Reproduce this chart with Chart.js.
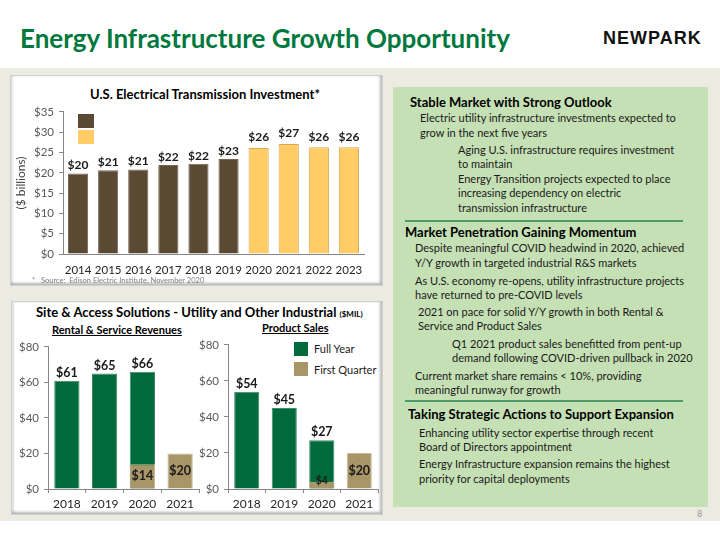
<!DOCTYPE html>
<html>
<head>
<meta charset="utf-8">
<script src="https://cdn.jsdelivr.net/npm/chart.js@4.4.0/dist/chart.umd.min.js"></script>
<style>
  body { margin:0; width:720px; height:540px; position:relative; overflow:hidden; background:#fff; font-family:Lato, "Open Sans", sans-serif; color:#1a1a1a; }
  .band { position:absolute; left:0; top:68px; width:720px; height:453px; background:#ecebe2; }
  .panel { position:absolute; background:#fff; border:1px solid #d0d0d0; box-shadow:inset -2px -2px 3px rgba(0,0,0,0.28), inset 2px 0 2px rgba(0,0,0,0.12); box-sizing:border-box; }
  .green { position:absolute; left:393px; top:87px; width:315px; height:420px; background:#c5e0b4; }
  .t { position:absolute; white-space:nowrap; line-height:14px; }
  .txt { font-size:11px; }
  .hd { font-size:13px; font-weight:bold; color:#000; }
  .sep { position:absolute; left:405px; width:278px; height:2px; background:#4e9a6a; }
  canvas { position:absolute; }
  .sq { position:absolute; }
</style>
</head>
<body>
<div class="band"></div>

<div class="t" style="left:20px;top:21px;font-size:26px;font-weight:bold;color:#00783e;line-height:34px;">Energy Infrastructure Growth Opportunity</div>
<div class="t" style="left:603px;top:28px;font-family:'Liberation Sans',Arial,sans-serif;font-size:18px;font-weight:bold;color:#111;letter-spacing:1px;line-height:20px;">NEWPARK</div>

<!-- panel z wykresem inwestycji -->
<div class="panel" style="left:10px;top:75px;width:373px;height:211px;"></div>
<div class="t" style="left:90px;top:86px;font-size:13px;font-weight:bold;color:#000;line-height:16px;">U.S. Electrical Transmission Investment*</div>
<div class="sq" style="left:78px;top:114px;width:16px;height:14px;background:#5a4a33;"></div>
<div class="sq" style="left:78px;top:130px;width:16px;height:14px;background:#ffcc66;"></div>
<canvas id="topChart" width="372" height="178" style="left:10px;top:100px;"></canvas>
<div class="t" style="left:32px;top:276px;font-size:7.5px;color:#7f7f7f;line-height:10px;">*&nbsp;&nbsp;&nbsp;Source:&nbsp;&nbsp;Edison Electric Institute, November 2020</div>

<!-- panel z przychodami -->
<div class="panel" style="left:11px;top:301px;width:372px;height:214px;"></div>
<div class="t" style="left:36px;top:304px;font-size:13px;font-weight:bold;color:#000;line-height:16px;">Site &amp; Access Solutions - Utility and Other Industrial <span style="font-size:8px;">($MIL)</span></div>
<div class="t" style="left:52px;top:323px;font-size:11px;font-weight:bold;color:#000;text-decoration:underline;">Rental &amp; Service Revenues</div>
<div class="t" style="left:262px;top:321px;font-size:11px;font-weight:bold;color:#000;text-decoration:underline;">Product Sales</div>
<div class="sq" style="left:294px;top:342px;width:14px;height:14px;background:#006a3c;"></div>
<div class="t txt" style="left:314px;top:342px;">Full Year</div>
<div class="sq" style="left:294px;top:362px;width:14px;height:14px;background:#a89668;"></div>
<div class="t txt" style="left:314px;top:363px;">First Quarter</div>
<canvas id="rentalChart" width="190" height="180" style="left:12px;top:335px;"></canvas>
<canvas id="productChart" width="190" height="182" style="left:192px;top:333px;"></canvas>

<!-- prawy panel z tekstem -->
<div class="green"></div>
<div class="t hd" style="left:410px;top:95px;">Stable Market with Strong Outlook</div>
<div class="t txt" style="left:420px;top:111px;">Electric utility infrastructure investments expected to</div>
<div class="t txt" style="left:420px;top:126px;">grow in the next five years</div>
<div class="t txt" style="left:458px;top:143px;">Aging U.S. infrastructure requires investment</div>
<div class="t txt" style="left:458px;top:157px;">to maintain</div>
<div class="t txt" style="left:458px;top:172px;">Energy Transition projects expected to place</div>
<div class="t txt" style="left:458px;top:186px;">increasing dependency on electric</div>
<div class="t txt" style="left:458px;top:201px;">transmission infrastructure</div>
<div class="sep" style="top:220px;"></div>
<div class="t hd" style="left:405px;top:225px;">Market Penetration Gaining Momentum</div>
<div class="t txt" style="left:415px;top:241px;">Despite meaningful COVID headwind in 2020, achieved</div>
<div class="t txt" style="left:415px;top:256px;">Y/Y growth in targeted industrial R&amp;S markets</div>
<div class="t txt" style="left:415px;top:274px;">As U.S. economy re-opens, utility infrastructure projects</div>
<div class="t txt" style="left:415px;top:288px;">have returned to pre-COVID levels</div>
<div class="t txt" style="left:418px;top:305px;">2021 on pace for solid Y/Y growth in both Rental &amp;</div>
<div class="t txt" style="left:418px;top:319px;">Service and Product Sales</div>
<div class="t txt" style="left:452px;top:337px;">Q1 2021 product sales benefitted from pent-up</div>
<div class="t txt" style="left:452px;top:351px;">demand following COVID-driven pullback in 2020</div>
<div class="t txt" style="left:415px;top:369px;">Current market share remains &lt; 10%, providing</div>
<div class="t txt" style="left:415px;top:383px;">meaningful runway for growth</div>
<div class="sep" style="top:400px;"></div>
<div class="t hd" style="left:408px;top:407px;">Taking Strategic Actions to Support Expansion</div>
<div class="t txt" style="left:419px;top:426px;">Enhancing utility sector expertise through recent</div>
<div class="t txt" style="left:419px;top:440px;">Board of Directors appointment</div>
<div class="t txt" style="left:419px;top:457px;">Energy Infrastructure expansion remains the highest</div>
<div class="t txt" style="left:419px;top:472px;">priority for capital deployments</div>
<div class="t" style="left:697px;top:507px;font-size:9px;color:#999;">8</div>

<script>
// dane - inwestycje w przesył energii (mld $)
const years = ['2014', '2015', '2016', '2017', '2018', '2019', '2020', '2021', '2022', '2023'];
const actualInvestment = [19.8, 20.6, 20.8, 21.9, 22.2, 23.4, null, null, null, null];
const forecastInvestment = [null, null, null, null, null, null, 26.1, 27.1, 26.3, 26.3];
const investmentTicks = [0, 5, 10, 15, 20, 25, 30, 35];

// dane - Site & Access Solutions ($MIL)
const segmentYears = ['2018', '2019', '2020', '2021'];
const rentalFullYear = [61, 65, 66, null];
const rentalFirstQuarter = [null, null, 14, 20];
const productFullYear = [54, 45, 27, null];
const productFirstQuarter = [null, null, 4, 20];
const revenueTicks = [0, 20, 40, 60, 80];

const AXIS = '#868686';
Chart.defaults.font.family = 'Lato, "Open Sans", sans-serif';

// etykiety wartości nad słupkami / w środku słupków
const valueLabels = {
    id: 'valueLabels',
    afterDatasetsDraw(chart) {
        const ctx = chart.ctx;
        ctx.save();
        ctx.fillStyle = '#1a1a1a';
        ctx.textAlign = 'center';
        ctx.textBaseline = 'middle';
        chart.data.datasets.forEach((ds, i) => {
            chart.getDatasetMeta(i).data.forEach((bar, j) => {
                const v = ds.data[j];
                if (v == null) return;
                let y;
                let size = ds.labelSize || 12.5;
                if (ds.labelInside) {
                    const h = bar.base - bar.y;
                    y = Math.min((bar.y + bar.base) / 2, bar.base - 8);
                    if (h < 12) size = 10.5;
                } else {
                    y = bar.y - ds.labelOffset;
                }
                ctx.font = 'bold ' + size + 'px Lato, sans-serif';
                ctx.fillText('$' + Math.round(v), bar.x, y);
            });
        });
        ctx.restore();
    }
};

new Chart(document.getElementById('topChart'), {
    type: 'bar',
    data: {
        labels: years,
        datasets: [
            { data: actualInvestment, backgroundColor: '#5a4a33', borderColor: '#75664f', borderWidth: 1, grouped: false, labelOffset: 8, labelSize: 12 },
            { data: forecastInvestment, backgroundColor: '#ffcc66', borderColor: '#d6aa55', borderWidth: 1, grouped: false, labelOffset: 10.5, labelSize: 12 }
        ]
    },
    options: {
        responsive: false,
        animation: false,
        layout: { padding: { top: 9, right: 18, left: 0, bottom: 0 } },
        datasets: { bar: { categoryPercentage: 1, barPercentage: 0.67 } },
        plugins: { legend: { display: false }, tooltip: { enabled: false } },
        scales: {
            x: {
                grid: { display: false, drawTicks: false },
                border: { color: AXIS },
                ticks: { padding: 9, color: '#262626', font: { size: 11.5 }, maxRotation: 0, minRotation: 0, autoSkip: false },
                afterFit: s => { s.height = 24; }
            },
            y: {
                min: 0, max: 35,
                afterBuildTicks: s => { s.ticks = investmentTicks.map(v => ({ value: v })); },
                ticks: { callback: v => '$' + v, padding: 5, color: '#595959', font: { size: 11.5 } },
                grid: { drawOnChartArea: false, tickLength: 4, color: AXIS },
                border: { color: AXIS },
                title: { display: true, text: '($ billions)', color: '#404040', font: { size: 12 }, padding: { top: 4, bottom: 4 } },
                afterFit: s => { s.width = 53; }
            }
        }
    },
    plugins: [valueLabels]
});

function segmentChart(id, fullYear, firstQuarter, padRight) {
    return new Chart(document.getElementById(id), {
        type: 'bar',
        data: {
            labels: segmentYears,
            datasets: [
                { label: 'First Quarter', data: firstQuarter, backgroundColor: '#a89668', borderColor: '#c9bb95', borderWidth: 1, grouped: false, labelInside: true },
                { label: 'Full Year', data: fullYear, backgroundColor: '#006a3c', borderColor: '#3f8c66', borderWidth: 1, grouped: false, labelOffset: 8 }
            ]
        },
        options: {
            responsive: false,
            animation: false,
            layout: { padding: { top: 9, right: padRight, left: 0, bottom: 0 } },
            datasets: { bar: { categoryPercentage: 1, barPercentage: 0.67 } },
            plugins: { legend: { display: false }, tooltip: { enabled: false } },
            scales: {
                x: {
                    grid: { drawOnChartArea: false, tickLength: 4, color: AXIS },
                    border: { color: AXIS },
                    ticks: { padding: 4, color: '#262626', font: { size: 12 }, maxRotation: 0, minRotation: 0, autoSkip: false },
                    afterFit: s => { s.height = 26; }
                },
                y: {
                    min: 0, max: 80,
                    afterBuildTicks: s => { s.ticks = revenueTicks.map(v => ({ value: v })); },
                    ticks: { callback: v => '$' + v, padding: 5, color: '#595959', font: { size: 11.5 } },
                    grid: { drawOnChartArea: false, tickLength: 4, color: AXIS },
                    border: { color: AXIS },
                    afterFit: s => { s.width = 36; }
                }
            }
        },
        plugins: [valueLabels]
    });
}

segmentChart('rentalChart', rentalFullYear, rentalFirstQuarter, 3);
segmentChart('productChart', productFullYear, productFirstQuarter, 4);
</script>
</body>
</html>
